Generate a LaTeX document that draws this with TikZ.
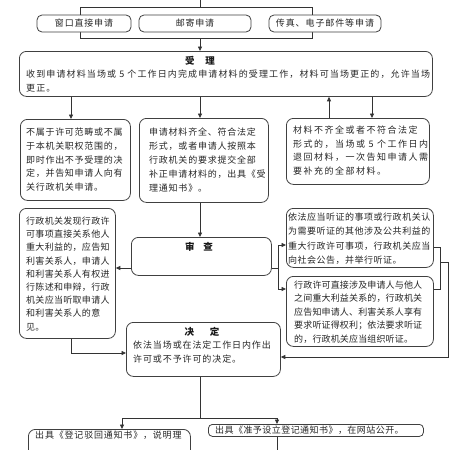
\documentclass[tikz,border=0pt]{standalone}
\usepackage{fontspec}
\setmainfont{Noto Sans CJK SC}
\usetikzlibrary{arrows.meta}
\newcommand\lsp[1]{\addfontfeature{LetterSpace=#1}}
\tikzset{
  box/.style={draw=black!75, line width=0.8pt, fill=white, rounded corners=7pt, inner sep=0pt, anchor=north west},
  smallbox/.style={box, rounded corners=5pt, anchor=center, font=\fontsize{9}{11}\selectfont, text=black!85},
  conn/.style={line width=0.8pt, draw=black!80},
  arr/.style={conn, -{Triangle[length=4.5pt,width=4pt]}},
  txt/.style={inner sep=0pt, anchor=base west, align=left, text=black!85},
  ttl/.style={inner sep=0pt, anchor=center, font=\fontsize{9.5}{11}\selectfont\bfseries, text=black!90},
}
\begin{document}
\begin{tikzpicture}[x=1pt,y=-1pt]
\clip (0,0) rectangle (450,450);
\fill[white] (0,0) rectangle (450,450);
% coordinates
\coordinate (top) at (200,0);
\coordinate (bTL) at (80,7);
\coordinate (bBR) at (312,38);
\coordinate (xa) at (71,0);
\coordinate (xb) at (200,0);
\coordinate (xc1) at (329,0);
\coordinate (xc2) at (372,0);
\coordinate (yl) at (0,268);
\coordinate (fk) at (278,268);
\coordinate (ye) at (0,245);
\coordinate (yf) at (0,289);
\coordinate (rb) at (440,262);
\coordinate (re) at (448,262);
\coordinate (yeb) at (0,247);
\coordinate (yj) at (0,353);
\coordinate (yj2) at (0,357);
\coordinate (yb) at (0,418);
\coordinate (xg) at (122,0);
\coordinate (xh) at (277,0);
\coordinate (bot) at (0,452);
% top bracket
\draw[conn] (bTL) rectangle (bBR);
\draw[conn] (top) -- (top |- bTL);
\node[smallbox, minimum width=94pt, minimum height=17pt] (t1) at (84,23.5) {\lsp{9}窗口直接申请};
\node[smallbox, minimum width=112pt, minimum height=17pt] (t2) at (195,23.5) {\lsp{8}邮寄申请};
\node[smallbox, minimum width=112pt, minimum height=17pt] (t3) at (325,23.5) {\lsp{10}传真、电子邮件等申请};
% main boxes
\node[box, minimum width=413pt, minimum height=45pt] (shouli) at (19,51) {};
\node[box, minimum width=110pt, minimum height=81pt] (A) at (20,119) {};
\node[box, minimum width=129pt, minimum height=84pt] (B) at (139,118) {};
\node[box, minimum width=143pt, minimum height=66pt] (C) at (286,118) {};
\node[box, minimum width=96pt, minimum height=130pt] (D) at (19,208) {};
\node[box, minimum width=140pt, minimum height=38pt] (shencha) at (131,237) {};
\node[box, minimum width=147pt, minimum height=59pt] (E) at (286,208) {};
\node[box, minimum width=147pt, minimum height=70pt] (F) at (286,276) {};
\node[box, minimum width=154pt, minimum height=54pt] (jueding) at (126,322) {};
\node[box, minimum width=162pt, minimum height=40pt] (G) at (28,429) {};
\node[box, rounded corners=4pt, minimum width=215pt, minimum height=12pt] (H) at (208,424) {};
% texts (base anchor = baseline of the last line)
\node[ttl] (shouliT) at (200,61) {受\hspace{11pt}理};
\node[txt, font=\fontsize{9}{14}\selectfont\lsp{12.5}] (shouliX) at (26,91.5) {收到申请材料当场或 5 个工作日内完成申请材料的受理工作，材料可当场更正的，允许当场\\更正。};
\node[txt, font=\fontsize{9}{13.8}\selectfont\lsp{7.8}] (AX) at (26,190.7) {不属于许可范畴或不属\\于本机关职权范围的，\\即时作出不予受理的决\\定，并告知申请人向有\\关行政机关申请。};
\node[txt, font=\fontsize{9}{14}\selectfont\lsp{8.5}] (BX) at (149,191.5) {申请材料齐全、符合法定\\形式，或者申请人按照本\\行政机关的要求提交全部\\补正申请材料的，出具《受\\理通知书》。};
\node[txt, font=\fontsize{9}{13.7}\selectfont\lsp{16.5}] (CX) at (293,174.6) {材料不齐全或者不符合法定\\形式的，当场或 5 个工作日内\\退回材料，一次告知申请人需\\要补充的全部材料。};
\node[txt, font=\fontsize{9}{13.2}\selectfont\lsp{3.3}] (DX) at (26,330.1) {行政机关发现行政许\\可事项直接关系他人\\重大利益的，应告知\\利害关系人，申请人\\和利害关系人有权进\\行陈述和申辩，行政\\机关应当听取申请人\\和利害关系人的意\\见。};
\node[ttl] (shenchaT) at (199,247) {审\hspace{9pt}查};
\node[txt, font=\fontsize{9}{14.3}\selectfont\lsp{5.6}] (EX) at (288,263.4) {依法应当听证的事项或行政机关认\\为需要听证的其他涉及公共利益的\\重大行政许可事项，行政机关应当\\向社会公告，并举行听证。};
\node[txt, font=\fontsize{9}{13.4}\selectfont\lsp{1.7}] (FX) at (294,342.1) {行政许可直接涉及申请人与他人\\之间重大利益关系的，行政机关\\应告知申请人、利害关系人享有\\要求听证得权利；依法要求听证\\的，行政机关应当组织听证。};
\node[ttl] (juedingT) at (202,332) {决\hspace{16pt}定};
\node[txt, font=\fontsize{9}{13.5}\selectfont\lsp{10}] (juedingX) at (133,362) {依法当场或在法定工作日内作出\\许可或不予许可的决定。};
\node[txt, font=\fontsize{9}{13.5}\selectfont\lsp{9}] (GX) at (35,438.5) {出具《登记驳回通知书》，说明理};
\node[txt, font=\fontsize{9}{11}\selectfont\lsp{5}] (HX) at (215,433.5) {出具《准予设立登记通知书》，在网站公开。};
% connectors
\draw[arr] (top |- bBR) -- (top |- shouli.north);
\draw[arr] (shouli.south -| xa) -- (A.north -| xa);
\draw[arr] (shouli.south -| xb) -- (B.north -| xb);
\draw[arr] (C.north -| xc1) -- (shouli.south -| xc1);
\draw[arr] (shouli.south -| xc2) -- (C.north -| xc2);
\draw[arr] (B.south -| xb) -- (shencha.north -| xb);
\draw[arr] (shencha.west |- yl) -- (D.east |- yl);
\draw[conn] (shencha.east |- fk) -- (fk);
\draw[arr] (fk) -- (fk |- ye) -- (E.west |- ye);
\draw[arr] (fk) -- (fk |- yf) -- (F.west |- yf);
\draw[conn] (E.east |- yeb) -- (rb |- yeb) -- (rb |- yf) -- (F.east |- yf);
\draw[arr] (rb) -- (re) -- (re |- yj2) -- (jueding.east |- yj2);
\draw[arr] (D.south -| xa) -- (xa |- yj) -- (jueding.west |- yj);
\draw[conn] (jueding.south -| xb) -- (xb |- yb);
\draw[conn] (xg |- yb) -- (xh |- yb);
\draw[arr] (xg |- yb) -- (G.north -| xg);
\draw[arr] (xh |- yb) -- (H.north -| xh);
\draw[conn] (H.south -| xh) -- (xh |- bot);
\end{tikzpicture}
\end{document}
